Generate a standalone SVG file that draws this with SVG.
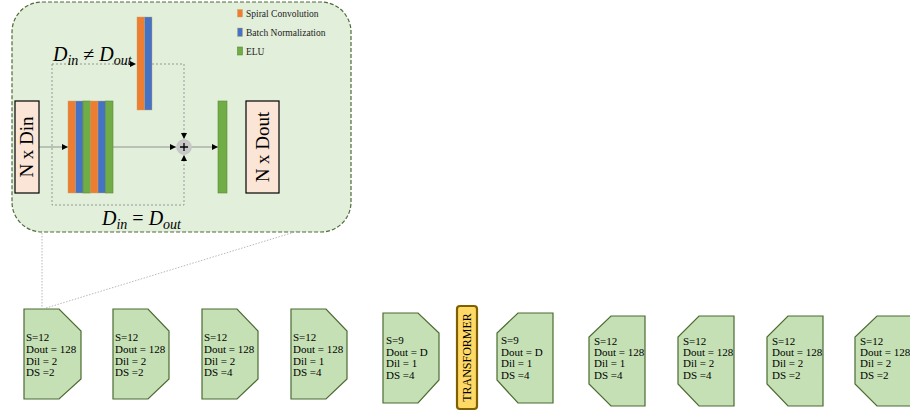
<svg xmlns="http://www.w3.org/2000/svg" width="910" height="411" viewBox="0 0 910 411">
<defs>
<marker id="ah" viewBox="0 0 6 6" refX="6" refY="3" markerWidth="6" markerHeight="6" orient="auto" markerUnits="userSpaceOnUse">
<path d="M0,0 L6,3 L0,6 Z" fill="#000"/>
</marker>
<style>
.node{fill:#c5e0b4;stroke:#4b6b32;stroke-width:1.2}
.nt{font-family:"Liberation Serif",serif;font-size:11px;fill:#000}
.or{fill:#ed7d31;stroke:#c9a070;stroke-width:0.4}
.bl{fill:#4472c4;stroke:#c9a070;stroke-width:0.4}
.gr{fill:#70ad47;stroke:#5a8a38;stroke-width:0.6}
.io{fill:#fbe5d6;stroke:#000;stroke-width:1.2}
.big{font-family:"Liberation Serif",serif;font-size:19px;fill:#000}
.leg{font-family:"Liberation Serif",serif;font-size:9.5px;fill:#222}
.math{font-family:"Liberation Serif",serif;font-style:italic;font-size:20px;fill:#000}
.skip{fill:none;stroke:#777;stroke-width:0.7;stroke-dasharray:2,2}
.main{fill:none;stroke:#888;stroke-width:0.9}
</style>
</defs>

<g id="detail">
<rect x="12" y="2" width="339" height="230" rx="30" ry="30" fill="#e2efda" stroke="#4f6b3a" stroke-width="1.2" stroke-dasharray="4,2"/>
</g>

<g id="legend">
<rect class="or" x="237.5" y="9.5" width="5" height="7.5"/>
<text class="leg" x="246" y="17">Spiral Convolution</text>
<rect class="bl" x="237.5" y="28" width="5" height="8.5"/>
<text class="leg" x="246" y="36">Batch Normalization</text>
<rect class="gr" x="237.5" y="47" width="5" height="8"/>
<text class="leg" x="246" y="55">ELU</text>
</g>

<g id="connectors">
<path class="skip" d="M52,64 V205 H184 V156"/>
<path class="skip" d="M52,64 H136" marker-end="url(#ah)"/>
<path class="skip" d="M152,64 H184 V138"/>
<path d="M184,136 L184,139" stroke="#000" stroke-width="0.1" marker-end="url(#ah)"/>
<path d="M184,158 L184,155" stroke="#000" stroke-width="0.1" marker-end="url(#ah)"/>
<path class="main" d="M39,147 H68" marker-end="url(#ah)"/>
<path class="main" d="M113,147 H176" marker-end="url(#ah)"/>
<path class="main" d="M191.5,147 H218" marker-end="url(#ah)"/>
<path d="M42,233 V308" fill="none" stroke="#999" stroke-width="0.7" stroke-dasharray="1.5,1.5"/>
<path d="M46,308 L298,231" fill="none" stroke="#999" stroke-width="0.7" stroke-dasharray="1.5,1.5"/>
</g>

<g id="input">
<rect class="io" x="15" y="101" width="24" height="92"/>
<text class="big" transform="translate(33,147) rotate(-90)" text-anchor="middle">N x Din</text>
</g>

<g id="block-stack">
<rect class="or" x="68" y="101" width="7.5" height="92"/>
<rect class="bl" x="75.5" y="101" width="7.5" height="92"/>
<rect class="gr" x="83" y="101" width="7.5" height="92"/>
<rect class="or" x="90.5" y="101" width="7.5" height="92"/>
<rect class="bl" x="98" y="101" width="7.5" height="92"/>
<rect class="gr" x="105.5" y="101" width="7.5" height="92"/>
</g>

<g id="skip-block">
<rect class="or" x="137" y="17" width="7.5" height="93"/>
<rect class="bl" x="144.5" y="17" width="7.5" height="93"/>
</g>

<g id="sum">
<circle cx="184" cy="147" r="7.5" fill="#c8c8c8" stroke="#bbb" stroke-width="0.5"/>
<path d="M184,143 V151 M180,147 H188" stroke="#000" stroke-width="1.3"/>
</g>

<g id="elu">
<rect class="gr" x="218" y="101" width="9" height="92"/>
</g>

<g id="output">
<rect class="io" x="246" y="101" width="33" height="92"/>
<text class="big" transform="translate(269,147) rotate(-90)" text-anchor="middle">N x Dout</text>
</g>

<g id="labels">
<text class="math" x="53" y="61">D<tspan font-size="14" dy="4">in</tspan><tspan dy="-4" font-style="normal"> ≠ </tspan>D<tspan font-size="14" dy="4">out</tspan></text>
<text class="math" x="102" y="225">D<tspan font-size="14" dy="4">in</tspan><tspan dy="-4" font-style="normal"> = </tspan>D<tspan font-size="14" dy="4">out</tspan></text>
</g>

<g id="n1">
<polygon class="node" points="24,309 59,309 81,331 81,379 59,399 24,399"/>
<text class="nt" x="26" y="341">S=12</text><text class="nt" x="26" y="353">Dout = 128</text><text class="nt" x="26" y="365">Dil = 2</text><text class="nt" x="26" y="376">DS =2</text>
</g>
<g id="n2">
<polygon class="node" points="113,309 148,309 169,331 169,379 148,399 113,399"/>
<text class="nt" x="115" y="341">S=12</text><text class="nt" x="115" y="353">Dout = 128</text><text class="nt" x="115" y="365">Dil = 2</text><text class="nt" x="115" y="376">DS =2</text>
</g>
<g id="n3">
<polygon class="node" points="202,309 237,309 258,331 258,379 237,399 202,399"/>
<text class="nt" x="204" y="341">S=12</text><text class="nt" x="204" y="353">Dout = 128</text><text class="nt" x="204" y="365">Dil = 2</text><text class="nt" x="204" y="376">DS =4</text>
</g>
<g id="n4">
<polygon class="node" points="291,309 326,309 347,331 347,379 326,399 291,399"/>
<text class="nt" x="293" y="341">S=12</text><text class="nt" x="293" y="353">Dout = 128</text><text class="nt" x="293" y="365">Dil = 1</text><text class="nt" x="293" y="376">DS =4</text>
</g>
<g id="n5">
<polygon class="node" points="383,313 418,313 439,333 439,380 418,403 383,403"/>
<text class="nt" x="386" y="344">S=9</text><text class="nt" x="386" y="356">Dout = D</text><text class="nt" x="386" y="367">Dil = 1</text><text class="nt" x="386" y="379">DS =4</text>
</g>
<g id="transformer">
<rect x="457" y="306" width="20" height="103" rx="3" fill="#ffd966" stroke="#7f6000" stroke-width="2.2"/>
<text transform="translate(471,357.5) rotate(-90)" text-anchor="middle" font-family="'Liberation Serif',serif" font-size="12" fill="#000">TRANSFORMER</text>
</g>
<g id="n6">
<polygon class="node" points="518,313 553,313 553,403 518,403 497,380 497,333"/>
<text class="nt" x="501" y="344">S=9</text><text class="nt" x="501" y="356">Dout = D</text><text class="nt" x="501" y="367">Dil = 1</text><text class="nt" x="501" y="379">DS =4</text>
</g>
<g id="n7">
<polygon class="node" points="611,316 645,316 645,406 611,406 589,384 589,337"/>
<text class="nt" x="594" y="345">S=12</text><text class="nt" x="594" y="356">Dout = 128</text><text class="nt" x="594" y="367">Dil = 1</text><text class="nt" x="594" y="379">DS =4</text>
</g>
<g id="n8">
<polygon class="node" points="699,316 734,316 734,406 699,406 678,384 678,337"/>
<text class="nt" x="683" y="345">S=12</text><text class="nt" x="683" y="356">Dout = 128</text><text class="nt" x="683" y="367">Dil = 2</text><text class="nt" x="683" y="379">DS =4</text>
</g>
<g id="n9">
<polygon class="node" points="788,316 823,316 823,406 788,406 767,384 767,337"/>
<text class="nt" x="772" y="345">S=12</text><text class="nt" x="772" y="356">Dout = 128</text><text class="nt" x="772" y="367">Dil = 2</text><text class="nt" x="772" y="379">DS =2</text>
</g>
<g id="n10">
<polygon class="node" points="877,316 911,316 911,406 877,406 855,384 855,337"/>
<text class="nt" x="860" y="345">S=12</text><text class="nt" x="860" y="356">Dout = 128</text><text class="nt" x="860" y="367">Dil = 2</text><text class="nt" x="860" y="379">DS =2</text>
</g>
</svg>
